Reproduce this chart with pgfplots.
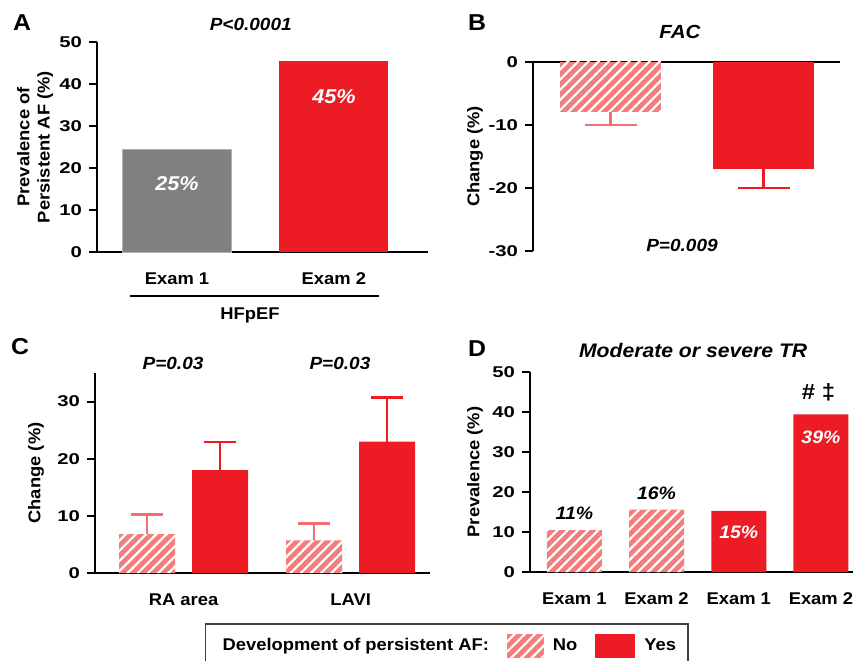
\documentclass[border=0pt]{standalone}
\usepackage{fontspec}
\setmainfont{Liberation Sans}[FakeStretch=1.08]
\newfontfamily\tickfont{Liberation Sans}[FakeStretch=1.3]
\usepackage{pgfplots}
\pgfplotsset{compat=1.18}
\usetikzlibrary{patterns.meta}
\definecolor{myred}{HTML}{ED1C24}
\definecolor{hpink}{HTML}{F37C7C}
\definecolor{hline}{HTML}{F07070}
\definecolor{mygray}{HTML}{808080}
\tikzset{
  hatchbar/.style={fill=hpink, draw=none, postaction={draw=none, pattern={Lines[angle=45,distance=3.6pt,line width=1.1pt]}, pattern color=white}},
  redbar/.style={fill=myred, draw=none},
  lab/.style={font=\bfseries\fontsize{8.5}{10}\selectfont},
  ttl/.style={font=\bfseries\itshape\fontsize{8.8}{10}\selectfont},
  pct/.style={font=\bfseries\itshape\fontsize{10}{12}\selectfont},
  letter/.style={font=\bfseries\fontsize{11.5}{13}\selectfont},
}
\pgfplotsset{
  panel/.style={
    scale only axis, ybar, clip=false,
    axis x line*=bottom, axis y line*=left,
    axis line style={line width=1pt,-},
    tick style={line width=1pt, black},
    major tick length=4pt, tick align=outside, ytick pos=left,
    /pgf/number format/assume math mode=true,
    yticklabel style={font=\tickfont\bfseries\fontsize{7.8}{9}\selectfont},
    xticklabel style={font=\bfseries\fontsize{8.5}{10}\selectfont, yshift=-3pt},
    label style={font=\bfseries\fontsize{8.5}{10}\selectfont},
    xtick style={draw=none},
  },
  hatcherr/.style n args={2}{error bars/.cd, y dir=#2, y explicit, error bar style={draw=hline, line width=1.3pt}, error mark options={rotate=90, draw=hline, line width=1.3pt, mark size=#1}},
  rederr/.style n args={2}{error bars/.cd, y dir=#2, y explicit, error bar style={draw=myred, line width=1.3pt}, error mark options={rotate=90, draw=myred, line width=1.3pt, mark size=#1}},
}
\begin{document}
\begin{tikzpicture}
\useasboundingbox (0,0) rectangle (426.5pt,330pt);
% letters
\node[letter] at (11pt,318.5pt) {A};
\node[letter] at (238.5pt,318.5pt) {B};
\node[letter] at (10pt,156.5pt) {C};
\node[letter] at (238.5pt,155.5pt) {D};

% Panel A
\begin{axis}[panel, at={(48.5pt,204pt)}, anchor=south west, width=165.5pt, height=105pt,
  xmin=-0.51, xmax=1.6, ymin=0, ymax=50, ytick={0,10,20,30,40,50},
  xtick={0,1}, xticklabels={Exam 1,Exam 2},
  ylabel={Prevalence of\\Persistent AF (\%)},
  ylabel style={align=center, at={(axis description cs:-0.187,0.5)}, anchor=center},
  bar width=54.5pt]
\addplot[fill=mygray, draw=gray!60, bar shift=0pt] coordinates {(0,24.5)};
\addplot[redbar, bar shift=0pt] coordinates {(1,45.5)};
\node[pct, white] at (axis cs:0,16.4) {25\%};
\node[pct, white] at (axis cs:1,36.9) {45\%};
\draw[line width=1pt] (axis cs:-0.30,-10.5) -- (axis cs:1.29,-10.5);
\node[lab] at (axis cs:0.465,-15.2) {HFpEF};
\node[ttl] at (axis cs:0.47,54.2) {P<0.0001};
\end{axis}

% Panel B
\begin{axis}[panel, axis x line*=top, at={(266.5pt,204.5pt)}, anchor=south west, width=153.5pt, height=94.5pt,
  xmin=-0.507, xmax=1.5, ymin=-30, ymax=0, ytick={0,-10,-20,-30}, yticklabels={0,-10,-20,-30},
  xtick=\empty,
  ylabel={Change (\%)},
  ylabel style={at={(axis description cs:-0.189,0.5)}, anchor=center},
  bar width=50.5pt]
\addplot[hatchbar, bar shift=0pt, hatcherr={13pt}{minus}] coordinates {(0,-8) +- (0,2)};
\addplot[redbar, bar shift=0pt, rederr={13pt}{minus}] coordinates {(1,-17) +- (0,3)};
\node[ttl, font=\bfseries\itshape\fontsize{9.5}{11}\selectfont] at (axis cs:0.454,4.8) {FAC};
\node[ttl] at (axis cs:0.467,-29.05) {P=0.009};
\end{axis}

% Panel C
\begin{axis}[panel, at={(47.5pt,43.5pt)}, anchor=south west, width=167.5pt, height=100pt,
  xmin=-0.53, xmax=1.475, ymin=0, ymax=35, ytick={0,10,20,30},
  xtick={0,1}, xticklabels={RA area,LAVI},
  ylabel={Change (\%)},
  ylabel style={at={(axis description cs:-0.176,0.5)}, anchor=center},
  bar width=28pt,
  legend columns=-1,
  legend style={at={(axis description cs:0.328,-0.25)}, anchor=north west, draw=black!75, line width=0.8pt,
    font=\bfseries\fontsize{8.5}{10}\selectfont, inner xsep=4pt, inner ysep=5pt,
    /tikz/every odd column/.append style={column sep=2.5pt},
    /tikz/every even column/.append style={column sep=7pt}}]
\addlegendimage{empty legend}\addlegendentry{Development of persistent AF:}
\addlegendimage{legend image code/.code={\path[hatchbar, draw=none] (0pt,-6pt) rectangle (18.5pt,6pt);}}\addlegendentry{No\hspace{8pt}}
\addlegendimage{legend image code/.code={\path[redbar, draw=none] (0pt,-6pt) rectangle (20pt,6pt);}}\addlegendentry{Yes}
\addplot[forget plot, hatchbar, bar shift=-18.25pt, hatcherr={8pt}{plus}] coordinates {(0,6.8) +- (0,3.4) (1,5.7) +- (0,3.0)};
\addplot[forget plot, redbar, bar shift=18.25pt, rederr={8pt}{plus}] coordinates {(0,18) +- (0,4.9) (1,23) +- (0,7.7)};
\node[ttl] at (axis cs:-0.063,36.75) {P=0.03};
\node[ttl] at (axis cs:0.936,36.75) {P=0.03};
\end{axis}

% Panel D
\begin{axis}[panel, at={(265pt,44pt)}, anchor=south west, width=161.5pt, height=100pt,
  xmin=-0.54, xmax=3.39, ymin=0, ymax=50, ytick={0,10,20,30,40,50},
  xtick={0,1,2,3}, xticklabels={Exam 1,Exam 2,Exam 1,Exam 2},
  ylabel={Prevalence (\%)},
  ylabel style={at={(axis description cs:-0.170,0.5)}, anchor=center},
  bar width=27.5pt]
\addplot[hatchbar, bar shift=0pt] coordinates {(0,10.5) (1,15.6)};
\addplot[redbar, bar shift=0pt] coordinates {(2,15.3) (3,39.4)};
\node[pct, font=\bfseries\itshape\fontsize{9}{11}\selectfont] at (axis cs:0,14.75) {11\%};
\node[pct, font=\bfseries\itshape\fontsize{9}{11}\selectfont] at (axis cs:1,19.75) {16\%};
\node[pct, white, font=\bfseries\itshape\fontsize{9}{11}\selectfont] at (axis cs:2,10) {15\%};
\node[pct, white, font=\bfseries\itshape\fontsize{9}{11}\selectfont] at (axis cs:3,33.75) {39\%};
\node[font=\bfseries\fontsize{11}{13}\selectfont] at (axis cs:2.97,45) {\# ‡};
\node[ttl, font=\bfseries\itshape\fontsize{9.8}{11}\selectfont] at (axis cs:1.445,55.5) {Moderate or severe TR};
\end{axis}
\end{tikzpicture}
\end{document}
